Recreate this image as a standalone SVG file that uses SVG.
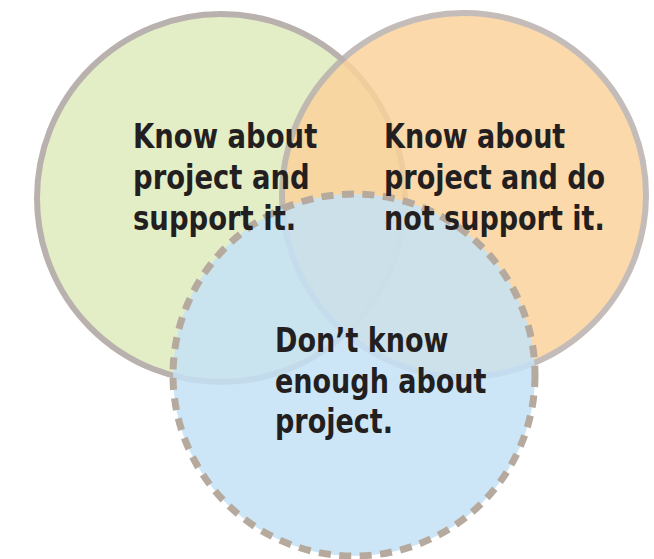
<svg xmlns="http://www.w3.org/2000/svg" width="654" height="559" viewBox="0 0 654 559">
  <style>
    .label { font-family: "DejaVu Sans Condensed", "DejaVu Sans", sans-serif; font-weight: bold; font-size: 33px; fill: #231f20; }
    .ring { stroke: #b9b1ad; stroke-width: 6; }
  </style>
  <rect width="654" height="559" fill="#ffffff"/>
  <g id="support">
    <circle class="ring" cx="221" cy="198" r="184" fill="#e3edc6"/>
  </g>
  <g id="oppose" opacity="0.85">
    <circle class="ring" cx="464" cy="195" r="182" fill="#fbd39c"/>
  </g>
  <g id="unaware">
    <circle cx="354" cy="375" r="181" fill="#c4e2f6" fill-opacity="0.85"/>
    <circle cx="354" cy="375" r="181" fill="none" stroke="#b5aa9d" stroke-width="7" stroke-dasharray="12 8.5"/>
  </g>
  <g id="labels">
    <g transform="translate(133,0) scale(0.925,1)">
      <text class="label" x="0" y="148">Know about</text>
      <text class="label" x="0" y="189">project and</text>
      <text class="label" x="0" y="230">support it.</text>
    </g>
    <g transform="translate(384,0) scale(0.91,1)">
      <text class="label" x="0" y="148">Know about</text>
      <text class="label" x="0" y="189">project and do</text>
      <text class="label" x="0" y="230">not support it.</text>
    </g>
    <g transform="translate(275,0) scale(0.91,1)">
      <text class="label" x="0" y="352">Don’t know</text>
      <text class="label" x="0" y="393">enough about</text>
      <text class="label" x="0" y="433">project.</text>
    </g>
  </g>
</svg>
